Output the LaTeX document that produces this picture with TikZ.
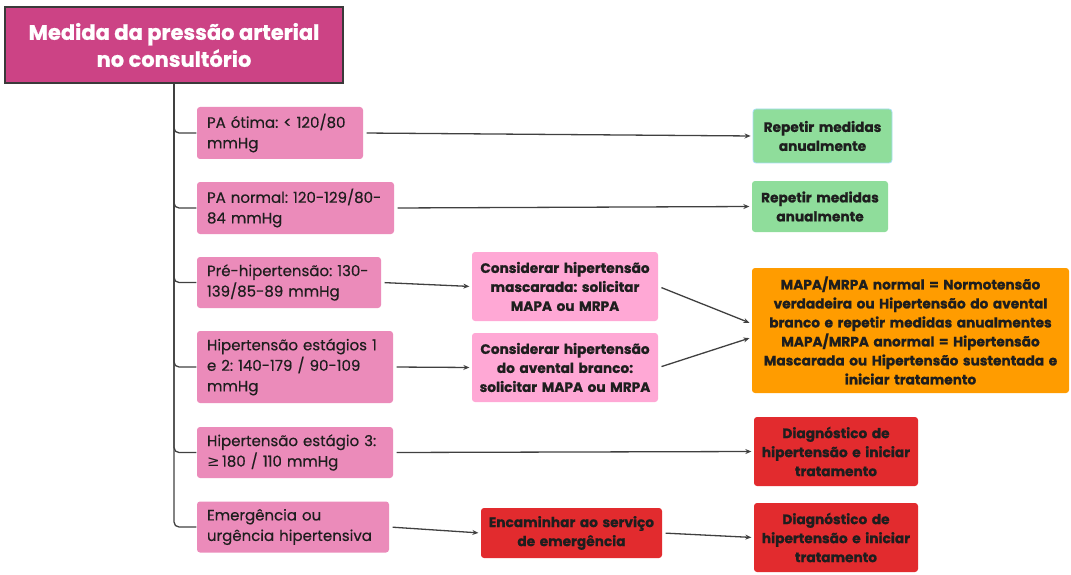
\documentclass[tikz,border=0pt]{standalone}
\usepackage{fontspec}
\setmainfont{Poppins}[BoldFeatures={FakeBold=0.8}]
\newfontfamily\medfont{Poppins}[FakeBold=0.4]
\newfontfamily\symfont{DejaVu Sans}
\usepackage{xcolor}
\usetikzlibrary{arrows.meta, positioning}
\frenchspacing

\definecolor{rootpink}{HTML}{CC4385}
\definecolor{levelpink}{HTML}{EB8BBA}
\definecolor{softpink}{HTML}{FFA8D5}
\definecolor{okgreen}{HTML}{8FDD9B}
\definecolor{warnorange}{HTML}{FF9C00}
\definecolor{alertred}{HTML}{E22B2E}
\definecolor{selblue}{HTML}{A8DDF5}
\definecolor{edgegray}{HTML}{3A3A3A}
\definecolor{linegray}{HTML}{404040}
\definecolor{txtdark}{HTML}{1E1E1E}

\begin{document}
\begin{tikzpicture}[
    x=1pt, y=-1pt,
    >={Stealth[length=6pt,width=5pt]},
    line width=1.3pt,
    rootbox/.style={draw=edgegray, line width=1.4pt, fill=rootpink, text=white,
        font=\bfseries\fontsize{21}{27}\selectfont, align=center,
        minimum width=338pt, minimum height=76pt},
    levelbox/.style={fill=levelpink, rounded corners=3pt, align=left,
        inner xsep=10pt, text=txtdark, font=\medfont\fontsize{15}{20.5}\selectfont},
    stepbox/.style={rounded corners=3pt, align=center, inner xsep=4pt,
        text=txtdark, font=\bfseries\fontsize{13.7}{19}\selectfont},
    trunk/.style={draw=linegray, rounded corners=5pt},
    link/.style={draw=linegray, ->, shorten <=3pt, shorten >=2pt},
]
\useasboundingbox (0,0) rectangle (1071,575);

%============================================================
%  Root
%============================================================
\node[rootbox] (root) at (174,45) {Medida da pressão arterial\\no consultório};

%============================================================
%  Pressure levels (left column)
%============================================================
\node[levelbox, text width=146pt, minimum height=52pt] (otima) at (280,133)
    {PA ótima: < 120/80\\mmHg};
\node[levelbox, text width=177pt, minimum height=52pt] (normal) at (295.5,208)
    {PA normal: 120-129/80-\\84 mmHg};
\node[levelbox, text width=164pt, minimum height=51pt] (prehip) at (289,282.5)
    {Pré-hipertensão: 130-\\139/85-89 mmHg};
\node[levelbox, text width=176pt, minimum height=72pt] (estagio12) at (295,367)
    {Hipertensão estágios 1\\e 2: 140-179 / 90-109\\mmHg};
\node[levelbox, text width=176pt, minimum height=51pt] (estagio3) at (295,452.5)
    {Hipertensão estágio 3:\\{\symfont ≥}\,180 / 110 mmHg};
\node[levelbox, text width=172pt, minimum height=51pt] (emerg) at (293,527)
    {Emergência ou\\urgência hipertensiva};

%============================================================
%  Intermediate steps
%============================================================
\node[stepbox, fill=softpink, text width=178pt, minimum height=69pt] (mascarada) at (565,286.5)
    {Considerar hipertensão\\mascarada: solicitar\\MAPA ou MRPA};
\node[stepbox, fill=softpink, text width=178pt, minimum height=69pt] (avental) at (565,367.5)
    {Considerar hipertensão\\do avental branco:\\solicitar MAPA ou MRPA};
\node[stepbox, fill=alertred, text width=173pt, minimum height=50pt] (servico) at (571.5,533)
    {Encaminhar ao serviço\\de emergência};

%============================================================
%  Outcomes (right column)
%============================================================
\node[stepbox, fill=okgreen, draw=selblue, line width=0.8pt, text width=131pt,
    minimum height=54pt] (anual1) at (822.5,136) {Repetir medidas\\anualmente};
\node[stepbox, fill=okgreen, text width=128pt, minimum height=51pt] (anual2) at (820,206.5)
    {Repetir medidas\\anualmente};
\node[stepbox, fill=warnorange, text width=309pt, minimum height=125pt] (mapa) at (910.5,330.5)
    {MAPA/MRPA normal = Normotensão\\verdadeira ou Hipertensão do avental\\
     branco e repetir medidas anualmentes\\MAPA/MRPA anormal = Hipertensão\\
     Mascarada ou Hipertensão sustentada e\\iniciar tratamento};
\node[stepbox, fill=alertred, text width=156pt, minimum height=69pt] (diag1) at (836,451.5)
    {Diagnóstico de\\hipertensão e iniciar\\tratamento};
\node[stepbox, fill=alertred, text width=156pt, minimum height=69pt] (diag2) at (836,537.5)
    {Diagnóstico de\\hipertensão e iniciar\\tratamento};

%============================================================
%  Connectors
%============================================================
% trunk with one branch per level
\foreach \n in {otima, normal, prehip, estagio12, estagio3, emerg}
    \draw[trunk] (root.south) |- (\n.west);

\draw[link] (otima.east) -- (anual1.west);
\draw[link] (normal.east) -- (anual2.west);
\draw[link] (prehip.east) -- (mascarada.west);
\draw[link] (estagio12.east) -- (avental.west);
\draw[link] (mascarada.east) -- ([yshift=7pt]mapa.west);
\draw[link] (avental.east) -- ([yshift=-7pt]mapa.west);
\draw[link] (estagio3.east) -- (diag1.west);
\draw[link] (emerg.east) -- (servico.west);
\draw[link] (servico.east) -- (diag2.west);

\end{tikzpicture}
\end{document}
